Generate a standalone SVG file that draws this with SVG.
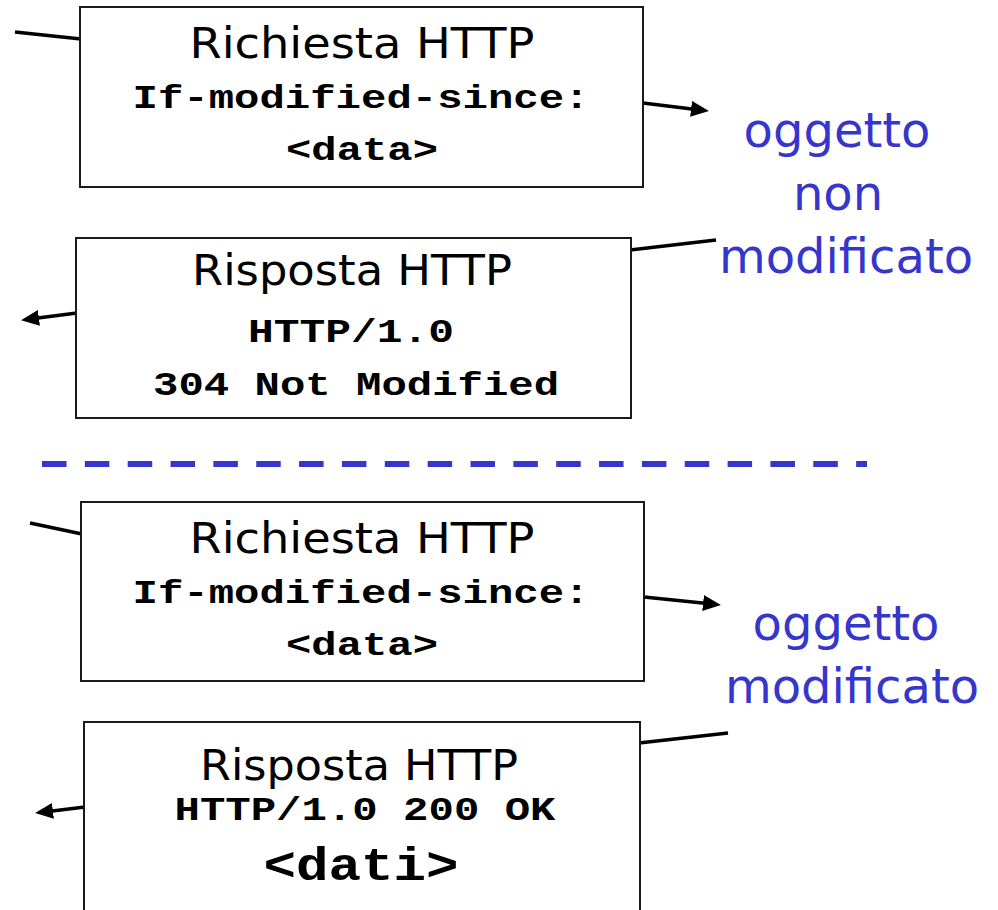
<svg xmlns="http://www.w3.org/2000/svg" width="998" height="910" viewBox="0 0 998 910">
<defs>
<marker id="ah" markerUnits="userSpaceOnUse" markerWidth="20" markerHeight="18" refX="9" refY="8" orient="auto">
<path d="M0,0 L18,8 L0,16 z" fill="#000"/>
</marker>
<style>
.box{fill:#fff;stroke:#1a1a1a;stroke-width:2}
.con{stroke:#000;stroke-width:3.5;fill:none}
.arr{stroke:#000;stroke-width:3.5;fill:none;marker-end:url(#ah)}
.ttl{font-family:"DejaVu Sans","Liberation Sans",sans-serif;font-size:42px;fill:#000;text-anchor:middle}
.mono{font-family:"Liberation Mono","DejaVu Sans Mono",monospace;font-weight:bold;font-size:34px;fill:#000;text-anchor:middle}
.big{font-family:"Liberation Mono","DejaVu Sans Mono",monospace;font-weight:bold;font-size:46px;fill:#000;text-anchor:middle}
.lbl{font-family:"DejaVu Sans","Liberation Sans",sans-serif;font-size:48px;fill:#3636CC;text-anchor:middle}
</style>
</defs>
<rect width="998" height="910" fill="#fff"/>
<g id="connectors">
<line class="con" x1="15" y1="32" x2="81" y2="39"/>
<line class="arr" x1="643" y1="103" x2="700" y2="110"/>
<line class="con" x1="716" y1="240" x2="630" y2="250"/>
<line class="arr" x1="77" y1="313" x2="30" y2="319"/>
<line class="con" x1="30" y1="523" x2="82" y2="534"/>
<line class="arr" x1="644" y1="597" x2="712" y2="604"/>
<line class="con" x1="728" y1="733" x2="639" y2="743"/>
<line class="arr" x1="85" y1="807" x2="44" y2="812"/>
</g>
<g id="divider">
<line x1="42" y1="464" x2="867" y2="464" stroke="#3636CC" stroke-width="6" stroke-dasharray="24.5 18.35"/>
</g>
<g id="req1">
<rect class="box" x="80" y="7" width="563" height="180"/>
<text class="ttl" x="362" y="58" textLength="345" lengthAdjust="spacingAndGlyphs">Richiesta HTTP</text>
<text class="mono" x="361" y="108" textLength="457" lengthAdjust="spacingAndGlyphs">If-modified-since:</text>
<text class="mono" x="362" y="160" textLength="152" lengthAdjust="spacingAndGlyphs">&lt;data&gt;</text>
</g>
<g id="resp1">
<rect class="box" x="76" y="238" width="555" height="180"/>
<text class="ttl" x="352" y="285" textLength="320" lengthAdjust="spacingAndGlyphs">Risposta HTTP</text>
<text class="mono" x="351" y="342" textLength="206" lengthAdjust="spacingAndGlyphs">HTTP/1.0</text>
<text class="mono" x="356" y="395" textLength="406" lengthAdjust="spacingAndGlyphs">304 Not Modified</text>
</g>
<g id="req2">
<rect class="box" x="81" y="502" width="563" height="179"/>
<text class="ttl" x="362" y="553" textLength="345" lengthAdjust="spacingAndGlyphs">Richiesta HTTP</text>
<text class="mono" x="361" y="603" textLength="457" lengthAdjust="spacingAndGlyphs">If-modified-since:</text>
<text class="mono" x="362" y="655" textLength="152" lengthAdjust="spacingAndGlyphs">&lt;data&gt;</text>
</g>
<g id="resp2">
<rect class="box" x="84" y="722" width="556" height="220"/>
<text class="ttl" x="359" y="780" textLength="318" lengthAdjust="spacingAndGlyphs">Risposta HTTP</text>
<text class="mono" x="365" y="820" textLength="381" lengthAdjust="spacingAndGlyphs">HTTP/1.0 200 OK</text>
<text class="big" x="361" y="880" textLength="195" lengthAdjust="spacingAndGlyphs">&lt;dati&gt;</text>
</g>
<g id="label-notmod">
<text class="lbl" x="837" y="147">oggetto</text>
<text class="lbl" x="838" y="210">non</text>
<text class="lbl" x="846" y="273">modificato</text>
</g>
<g id="label-mod">
<text class="lbl" x="846" y="640">oggetto</text>
<text class="lbl" x="852" y="703">modificato</text>
</g>
</svg>
